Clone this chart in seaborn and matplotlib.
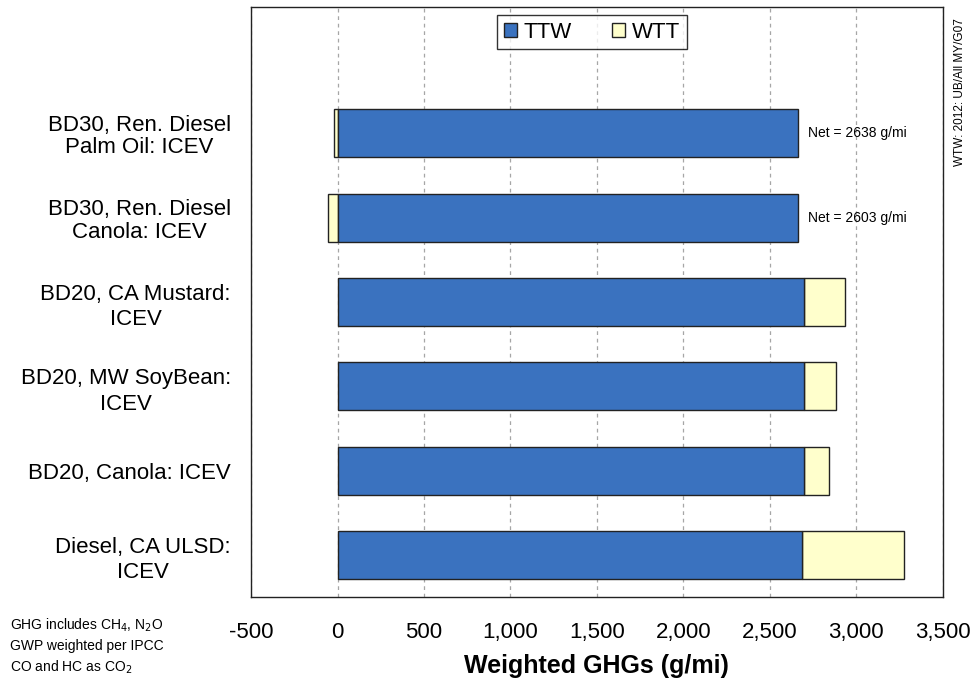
import matplotlib

matplotlib.use("Agg")
import matplotlib.pyplot as plt
import numpy as np
import pandas as pd
import seaborn as sns

# data, top to bottom
labels = [
    "BD30, Ren. Diesel\nPalm Oil: ICEV",
    "BD30, Ren. Diesel\nCanola: ICEV",
    "BD20, CA Mustard:\nICEV",
    "BD20, MW SoyBean:\nICEV",
    "BD20, Canola: ICEV",
    "Diesel, CA ULSD:\nICEV",
]
ttw = [2660, 2660, 2700, 2700, 2700, 2688]
wtt = [-22, -57, 232, 183, 139, 587]
net_notes = ["Net = 2638 g/mi", "Net = 2603 g/mi", None, None, None, None]
xticks = [-500, 0, 500, 1000, 1500, 2000, 2500, 3000, 3500]

# label line spacing as drawn in the source (the wrapped "ICEV" rows sit looser)
LABEL_SPACING = [1.1, 1.1, 1.3, 1.3, 1.0, 1.3]

TTW_COLOR = "#3A72BF"
WTT_COLOR = "#FFFFCC"
EDGE = "#222222"

sns.set_style("white")
plt.rcParams["font.family"] = ["Liberation Sans", "DejaVu Sans"]
for key in ("text.color", "axes.labelcolor", "xtick.color", "ytick.color"):
    plt.rcParams[key] = "black"

df = pd.DataFrame({"label": labels, "ttw": ttw, "wtt": wtt})

fig = plt.figure(figsize=(9.73, 6.81), dpi=100)
ax = fig.add_axes([0.258, 0.123, 0.711, 0.867])

sns.barplot(data=df, x="ttw", y="label", order=labels, color=TTW_COLOR,
            saturation=1, width=0.57, edgecolor=EDGE, linewidth=1,
            errorbar=None, ax=ax, label="TTW", zorder=3)

for i, (t, w) in enumerate(zip(ttw, wtt)):
    left = t if w > 0 else 0
    ax.barh(i, w, left=left, height=0.57, color=WTT_COLOR, edgecolor=EDGE,
            linewidth=1, zorder=2, label="WTT" if i == 0 else None)
    if net_notes[i]:
        ax.text(t + 60, i, net_notes[i], va="center", ha="left", fontsize=10)

ax.set_xlim(-500, 3500)
ax.set_ylim(len(labels) - 0.5, -1.5)
ax.set_xticks(xticks)
ax.set_xticklabels([f"{v:,}" for v in xticks], fontsize=16)
ax.tick_params(axis="x", length=4, direction="in", pad=18, color="#444444")
ax.set_yticks(range(len(labels)))
ax.set_yticklabels(labels, fontsize=16, multialignment="center")
for lab, ls in zip(ax.get_yticklabels(), LABEL_SPACING):
    lab.set_linespacing(ls)
ax.tick_params(axis="y", length=0, pad=14.5)
ax.set_yticks(np.arange(-0.5, len(labels) - 0.5, 1.0), minor=True)
ax.tick_params(axis="y", which="minor", length=5, direction="out",
               color="#444444")
ax.set_ylabel("")
ax.set_xlabel("Weighted GHGs (g/mi)", fontsize=18, fontweight="bold",
              labelpad=8)

ax.grid(axis="x", color="#A6A6A6", linestyle=(0, (3, 3)), linewidth=0.9,
        zorder=0)
ax.set_axisbelow(True)
for sp in ax.spines.values():
    sp.set_color("#222222")
    sp.set_linewidth(1)

leg = ax.legend(loc="upper center", bbox_to_anchor=(0.493, 0.986), ncol=2,
                fontsize=16, frameon=True, fancybox=False, handlelength=0.6,
                handleheight=0.6, handletextpad=0.3, columnspacing=1.8,
                borderpad=0.3, borderaxespad=0)
leg.get_frame().set_edgecolor("black")
leg.get_frame().set_linewidth(1)

fig.text(0.01, 0.095, "GHG includes CH$_4$, N$_2$O\nGWP weighted per IPCC\n"
         "CO and HC as CO$_2$", fontsize=10, va="top", ha="left",
         linespacing=1.45)
fig.text(0.987, 0.974, "WTW: 2012: UB/All MY/G07", fontsize=8.5, rotation=90,
         va="top", ha="center")

fig.savefig("out.png", dpi=100)
